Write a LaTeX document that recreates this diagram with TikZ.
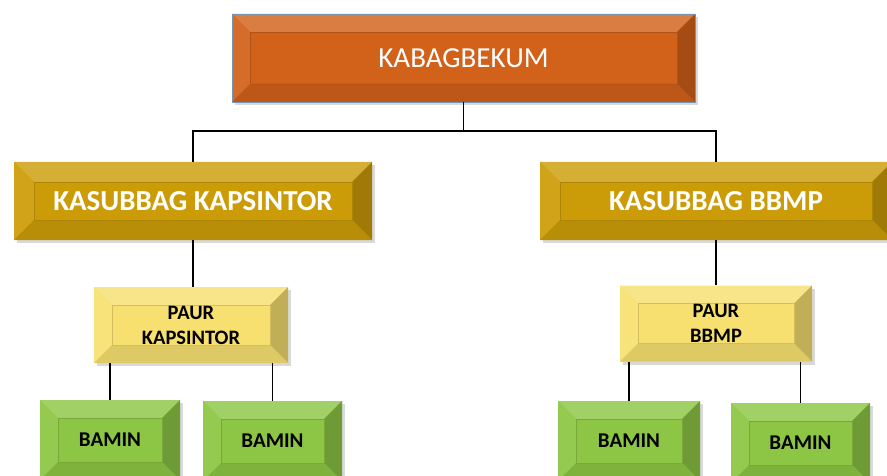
\documentclass[tikz,border=0pt]{standalone}
\usepackage{fontspec}
\setmainfont{Carlito}
\usetikzlibrary{positioning, shadows}
\definecolor{kabag}{RGB}{210,97,26}
\definecolor{kasub}{RGB}{204,156,8}
\definecolor{paur}{RGB}{247,224,112}
\definecolor{bamin}{RGB}{141,198,68}
\definecolor{rim}{RGB}{120,150,180}

\begin{document}
\begin{tikzpicture}[x=1pt, y=-1pt,
        bevel/.style 2 args = {fill=#1, inner sep=0pt, align=center,
            drop shadow={opacity=0.3, shadow xshift=3pt, shadow yshift=-3pt},
            path picture={
                \coordinate (nw) at (path picture bounding box.north west);
                \coordinate (ne) at (path picture bounding box.north east);
                \coordinate (sw) at (path picture bounding box.south west);
                \coordinate (se) at (path picture bounding box.south east);
                \coordinate (inw) at ([xshift=#2, yshift=-#2]nw);
                \coordinate (ine) at ([xshift=-#2, yshift=-#2]ne);
                \coordinate (isw) at ([xshift=#2, yshift=#2]sw);
                \coordinate (ise) at ([xshift=-#2, yshift=#2]se);
                \fill[#1!82!white] (nw) -- (ne) -- (ine) -- (inw) -- cycle;
                \fill[#1!93!white] (nw) -- (inw) -- (isw) -- (sw) -- cycle;
                \fill[#1!78!black] (ne) -- (se) -- (ise) -- (ine) -- cycle;
                \fill[#1!90!black] (sw) -- (isw) -- (ise) -- (se) -- cycle;
                \draw[#1!85!black, line width=0.6pt] (inw) rectangle (ise);
            }},
        head/.style = {bevel={kabag}{18pt}, draw=rim, text=white, font=\fontsize{29}{32}\selectfont},
        chief/.style = {bevel={kasub}{20pt}, text=white, minimum height=78, font=\bfseries\fontsize{29}{31}\selectfont},
        officer/.style = {bevel={paur}{18pt}, minimum height=76, font=\bfseries\fontsize{20.5}{25}\selectfont},
        staff/.style = {bevel={bamin}{18pt}, minimum height=80, font=\bfseries\fontsize{21}{24}\selectfont},
        link/.style = {draw=black, line width=1.8pt},
        ]
        \useasboundingbox (0,0) rectangle (887,476);

        \node [head, minimum width=463, minimum height=88] (kabag) at (463.5,58) {KABAGBEKUM};
        \node [chief, minimum width=358] (kasubKap) at (193,201) {KASUBBAG KAPSINTOR};
        \node [chief, minimum width=352] (kasubBbmp) at (716,201) {KASUBBAG BBMP};
        \node [officer, minimum width=194] (paurKap) at (191,325) {PAUR\\KAPSINTOR};
        \node [officer, minimum width=192] (paurBbmp) at (716,323.5) {PAUR\\BBMP};
        \node [staff, minimum width=140] (bamin1) at (110,440) {BAMIN};
        \node [staff, minimum width=139] (bamin2) at (272.5,441) {BAMIN};
        \node [staff, minimum width=142] (bamin3) at (629,441) {BAMIN};
        \node [staff, minimum width=139] (bamin4) at (800.5,443) {BAMIN};
        \coordinate (bus) at (463.5,131);

        \draw [link] (kabag.south) -- (bus);
        \draw [link] (kasubKap.north) |- (bus) -| (kasubBbmp.north);
        \draw [link] (kasubKap.south) -- (kasubKap.south |- paurKap.north);
        \draw [link] (kasubBbmp.south) -- (kasubBbmp.south |- paurBbmp.north);
        \draw [link] (bamin1.north |- paurKap.south) -- (bamin1.north);
        \draw [link] (bamin2.north |- paurKap.south) -- (bamin2.north);
        \draw [link] (bamin3.north |- paurBbmp.south) -- (bamin3.north);
        \draw [link] (bamin4.north |- paurBbmp.south) -- (bamin4.north);

    \end{tikzpicture}
\end{document}
